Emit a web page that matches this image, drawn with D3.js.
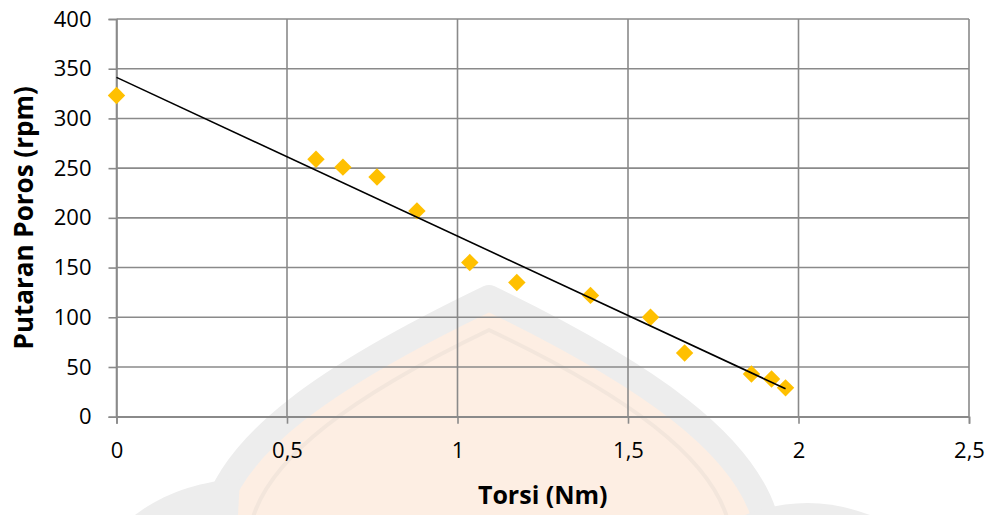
<!DOCTYPE html>
<html>
<head>
<meta charset="utf-8">
<script src="https://cdn.jsdelivr.net/npm/d3@7"></script>
<style>
  html, body { margin: 0; padding: 0; background: #ffffff; }
  svg { display: block; }
  text { font-family: "Open Sans", "Noto Sans", sans-serif; fill: #000; }
</style>
</head>
<body>
<svg id="chart" width="992" height="515"></svg>
<script>
// Torque vs. shaft speed measurements
const torsi   = [0, 0.585, 0.664, 0.764, 0.881, 1.036, 1.174, 1.39, 1.566, 1.666, 1.862, 1.921, 1.962];
const putaran = [323, 259, 251, 241, 207, 155, 135, 122, 100, 64, 43, 38, 29];

const xTicks = [0, 0.5, 1, 1.5, 2, 2.5];
const yTicks = [0, 50, 100, 150, 200, 250, 300, 350, 400];
const xTitle = "Torsi (Nm)";
const yTitle = "Putaran Poros (rpm)";

const svg = d3.select("#chart");
const plot = { left: 116.5, right: 969, top: 19, bottom: 416.7 };

const x = d3.scaleLinear().domain([0, 2.5]).range([plot.left, plot.right]);
const y = d3.scaleLinear().domain([0, 400]).range([plot.bottom, plot.top]);

const fmt = v => String(v).replace(".", ",");
const gridColor = "#8a8a8a";

// faint emblem in the background
const emb = svg.append("g").attr("class", "emblem");
emb.append("path")
  .attr("d", "M 212,530 C 222,445 335,372 489,298 C 642,372 752,445 768,530 Z")
  .attr("fill", "#fdeee3")
  .attr("stroke", "#ededed")
  .attr("stroke-width", 26)
  .attr("stroke-linejoin", "round");
emb.append("path")
  .attr("d", "M 250,530 C 262,458 360,392 489,330 C 620,392 718,458 730,530")
  .attr("fill", "none")
  .attr("stroke", "#f3e6dc")
  .attr("stroke-width", 4);
emb.append("path")
  .attr("d", "M 135,515 C 165,492 200,482 240,478 L 238,515 Z")
  .attr("fill", "#ededed");
emb.append("path")
  .attr("d", "M 745,515 C 790,498 830,500 870,515 Z")
  .attr("fill", "#ededed");

// gridlines
const grid = svg.append("g").attr("class", "grid");
grid.selectAll("line.h").data(yTicks).join("line")
  .attr("class", "h")
  .attr("x1", plot.left).attr("x2", plot.right)
  .attr("y1", d => y(d)).attr("y2", d => y(d))
  .attr("stroke", gridColor).attr("stroke-width", 1.6);
grid.selectAll("line.v").data(xTicks).join("line")
  .attr("class", "v")
  .attr("y1", plot.top).attr("y2", plot.bottom)
  .attr("x1", d => x(d)).attr("x2", d => x(d))
  .attr("stroke", gridColor).attr("stroke-width", 1.6);

// axes
const yAxis = d3.axisLeft(y).tickValues(yTicks).tickSize(8).tickPadding(17).tickFormat(fmt);
const xAxis = d3.axisBottom(x).tickValues(xTicks).tickSize(7).tickPadding(19).tickFormat(fmt);

const gy = svg.append("g").attr("transform", `translate(${plot.left},0)`).call(yAxis);
const gx = svg.append("g").attr("transform", `translate(0,${plot.bottom})`).call(xAxis);
[gx, gy].forEach(g => {
  g.select(".domain").attr("stroke", gridColor).attr("stroke-width", 1.6);
  g.selectAll(".tick line").attr("stroke", gridColor).attr("stroke-width", 1.6);
  g.selectAll(".tick text")
    .style("font-family", '"Open Sans", sans-serif')
    .style("font-size", "22px")
    .attr("fill", "#000");
});

// axis titles
svg.append("text")
  .attr("x", (plot.left + plot.right) / 2)
  .attr("y", 504)
  .attr("text-anchor", "middle")
  .style("font-size", "25px")
  .style("font-weight", "bold")
  .text(xTitle);

svg.append("text")
  .attr("transform", `translate(33,${(plot.top + plot.bottom) / 2}) rotate(-90)`)
  .attr("text-anchor", "middle")
  .style("font-size", "26px")
  .style("font-weight", "bold")
  .text(yTitle);

// data markers
const pts = torsi.map((t, i) => ({ t, r: putaran[i] }));
svg.append("g").selectAll("path").data(pts).join("path")
  .attr("d", d3.symbol().type(d3.symbolSquare).size(152))
  .attr("transform", d => `translate(${x(d.t)},${y(d.r)}) rotate(45)`)
  .attr("fill", "#ffc000");

// least-squares linear trendline, drawn over the markers
const n = torsi.length;
const mx = d3.mean(torsi), my = d3.mean(putaran);
let sxy = 0, sxx = 0;
for (let i = 0; i < n; i++) {
  sxy += (torsi[i] - mx) * (putaran[i] - my);
  sxx += (torsi[i] - mx) ** 2;
}
const slope = sxy / sxx;
const intercept = my - slope * mx;
const [x0, x1] = d3.extent(torsi);

svg.append("line")
  .attr("x1", x(x0)).attr("y1", y(intercept + slope * x0))
  .attr("x2", x(x1)).attr("y2", y(intercept + slope * x1))
  .attr("stroke", "#000").attr("stroke-width", 1.6);
</script>
</body>
</html>
